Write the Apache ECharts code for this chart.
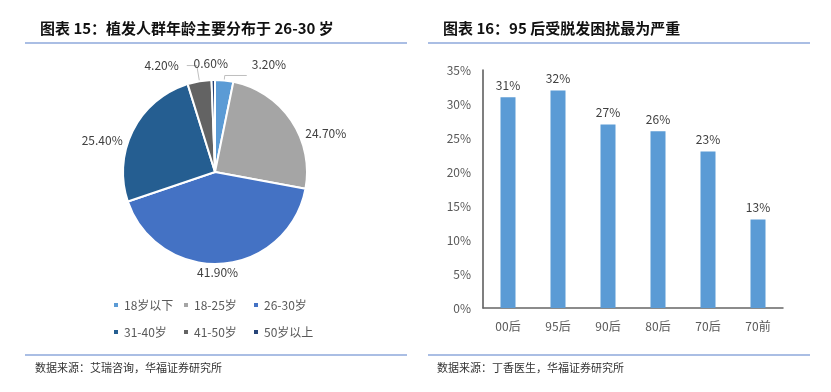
<!DOCTYPE html>
<html>
<head>
<meta charset="utf-8">
<script src="https://cdn.jsdelivr.net/npm/echarts@6/dist/echarts.min.js"></script>
<style>
  html, body { margin: 0; padding: 0; background: #fff; }
  #chart { width: 831px; height: 392px; }
</style>
</head>
<body>
<div id="chart"></div>
<script>
// left: age distribution pie
const ageGroups = ['18岁以下', '18-25岁', '26-30岁', '31-40岁', '41-50岁', '50岁以上'];
const ageShares = [3.2, 24.7, 41.9, 25.4, 4.2, 0.6];
const ageColors = ['#5B9BD5', '#A5A5A5', '#4472C4', '#255E91', '#636363', '#264478'];

// right: hair loss trouble by generation
const generations = ['00后', '95后', '90后', '80后', '70后', '70前'];
const troubleRates = [31, 32, 27, 26, 23, 13];
const rateTicks = [0, 5, 10, 15, 20, 25, 30, 35];

const font = '"Noto Sans CJK SC", "Noto Sans", sans-serif';

// label tweaks so they sit roughly where Excel put them
const labelLine1 = [5, 6, 6, 6, 16, 16];
const labelLine2 = [22, 0, 0, 0, 10, 0];
const labelNudge = [[0, -11], [4, 16], [-30, 3], [0, 13], [-3, 0], [20, -1]];

const chart = echarts.init(document.getElementById('chart'));

const pieData = ageGroups.map((name, i) => {
    const small = ageShares[i] < 5;
    return {
        name: name,
        value: ageShares[i],
        itemStyle: { color: ageColors[i] },
        labelLine: { show: small && i !== 5, length: labelLine1[i], length2: labelLine2[i] }
    };
});

chart.setOption({
    animation: false,
    textStyle: { fontFamily: font },
    title: [
        {
            text: '图表 15：植发人群年龄主要分布于 26-30 岁',
            left: 35, top: 16,
            textStyle: { fontSize: 15, fontWeight: 'bold', color: '#111', fontFamily: font }
        },
        {
            text: '图表 16：95 后受脱发困扰最为严重',
            left: 438, top: 16,
            textStyle: { fontSize: 15, fontWeight: 'bold', color: '#111', fontFamily: font }
        }
    ],
    graphic: [
        { type: 'line', shape: { x1: 25, y1: 43, x2: 407, y2: 43 }, style: { stroke: '#8EA9DB', lineWidth: 1.5 } },
        { type: 'line', shape: { x1: 428, y1: 43, x2: 810, y2: 43 }, style: { stroke: '#8EA9DB', lineWidth: 1.5 } },
        { type: 'line', shape: { x1: 25, y1: 355, x2: 407, y2: 355 }, style: { stroke: '#8EA9DB', lineWidth: 1.5 } },
        { type: 'line', shape: { x1: 428, y1: 355, x2: 810, y2: 355 }, style: { stroke: '#8EA9DB', lineWidth: 1.5 } },
        { type: 'text', left: 35, top: 362, style: { text: '数据来源：艾瑞咨询，华福证券研究所', fontSize: 11, fill: '#333', fontFamily: font } },
        { type: 'text', left: 437, top: 362, style: { text: '数据来源：丁香医生，华福证券研究所', fontSize: 11, fill: '#333', fontFamily: font } }
    ],
    legend: {
        data: ageGroups,
        left: 107,
        top: 289,
        width: 215,
        orient: 'horizontal',
        icon: 'rect',
        itemWidth: 6,
        itemHeight: 6,
        itemGap: 5,
        textStyle: { color: '#595959', fontSize: 12, width: 53, lineHeight: 22, fontFamily: font }
    },
    grid: { left: 483, right: 48, top: 70, bottom: 84 },
    xAxis: {
        type: 'category',
        data: generations,
        axisTick: { show: false },
        axisLine: { lineStyle: { color: '#666', width: 1.5 } },
        axisLabel: { color: '#595959', fontSize: 12, margin: 12 }
    },
    yAxis: {
        type: 'value',
        min: rateTicks[0],
        max: rateTicks[rateTicks.length - 1],
        interval: 5,
        splitLine: { show: false },
        axisLine: { show: true, lineStyle: { color: '#555', width: 1.5 } },
        axisTick: { show: false },
        axisLabel: { color: '#595959', fontSize: 12, margin: 12, formatter: '{value}%' }
    },
    series: [
        {
            type: 'pie',
            center: [215, 172],
            radius: [0, 92],
            startAngle: 90,
            clockwise: true,
            avoidLabelOverlap: false,
            data: pieData,
            itemStyle: { borderColor: '#fff', borderWidth: 2 },
            label: {
                show: true,
                position: 'outside',
                color: '#404040',
                fontSize: 12,
                formatter: p => p.value.toFixed(2) + '%'
            },
            labelLine: { lineStyle: { color: '#BFBFBF' } },
            labelLayout: p => ({ dx: labelNudge[p.dataIndex][0], dy: labelNudge[p.dataIndex][1] })
        },
        {
            type: 'bar',
            data: troubleRates,
            barWidth: 15,
            itemStyle: { color: '#5B9BD5' },
            label: {
                show: true,
                position: 'top',
                distance: 6,
                color: '#404040',
                fontSize: 12,
                formatter: '{c}%'
            }
        }
    ]
});
</script>
</body>
</html>
